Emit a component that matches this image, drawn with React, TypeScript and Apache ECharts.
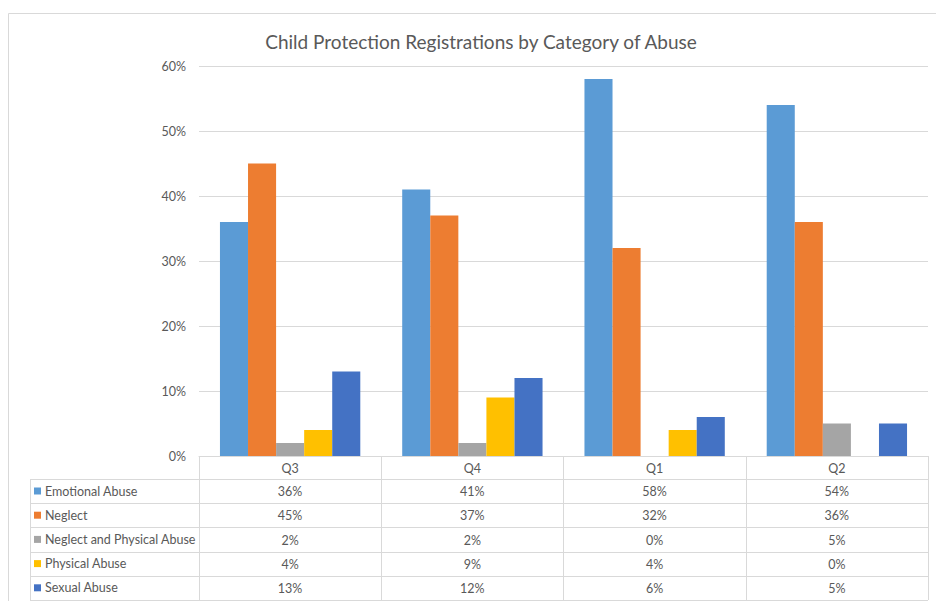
import React, { useEffect, useRef } from "react";
import * as echarts from "echarts";

const categories = ["Q3", "Q4", "Q1", "Q2"];
const seriesNames = [
  "Emotional Abuse",
  "Neglect",
  "Neglect and Physical Abuse",
  "Physical Abuse",
  "Sexual Abuse",
];
const emotionalAbuse = [36, 41, 58, 54];
const neglect = [45, 37, 32, 36];
const neglectPhysical = [2, 2, 0, 5];
const physicalAbuse = [4, 9, 4, 0];
const sexualAbuse = [13, 12, 6, 5];
const colors = ["#5B9BD5", "#ED7D31", "#A5A5A5", "#FFC000", "#4472C4"];
const yTicks = { min: 0, max: 60, interval: 10 };

const FONT = "Lato, 'Open Sans', sans-serif";
const TEXT = "#595959";
const LINE = "#D9D9D9";

export default function App() {
  const ref = useRef<HTMLDivElement>(null);
  useEffect(() => {
    document.body.style.margin = "0";
    if (!ref.current) return;
    const chart = echarts.init(ref.current, null, { renderer: "svg" });
    const allSeries = [emotionalAbuse, neglect, neglectPhysical, physicalAbuse, sexualAbuse];
    const rowH = 24.2;
    const gridBottomY = 456;
    const headerBottom = 479;
    const rowLines: any[] = [];
    for (let i = 0; i <= 5; i++) {
      const y = Math.round(headerBottom + i * rowH) + 0.5;
      rowLines.push({
        type: "line",
        shape: { x1: 30, y1: y, x2: 928, y2: y },
        style: { stroke: LINE, lineWidth: 1 },
        silent: true,
      });
    }
    const valueAxes = allSeries.map((vals, k) => ({
      type: "category",
      gridIndex: 0,
      position: "bottom",
      data: categories,
      offset: rowH * (k + 1),
      axisLine: { show: false },
      axisTick: { show: false },
      axisLabel: {
        interval: 0,
        margin: 5,
        fontFamily: FONT,
        fontSize: 12.5,
        color: TEXT,
        formatter: (_v: string, i: number) => `${vals[i]}%`,
      },
    }));
    chart.setOption({
      animation: false,
      backgroundColor: "#fff",
      title: {
        text: "Child Protection Registrations by Category of Abuse",
        left: 476,
        textAlign: "center",
        top: 27,
        textStyle: { fontFamily: FONT, fontSize: 19, fontWeight: "normal", color: TEXT },
      },
      legend: {
        orient: "vertical",
        left: 34,
        top: 484,
        height: 117,
        padding: 0,
        icon: "rect",
        itemWidth: 7,
        itemHeight: 7,
        itemGap: 10.2,
        data: seriesNames,
        textStyle: { fontFamily: FONT, fontSize: 12.5, color: TEXT, lineHeight: 14, padding: [0, 0, 0, -1] },
        selectedMode: false,
      },
      grid: { left: 199, right: 8, top: 66, bottom: 601 - gridBottomY, containLabel: false },
      xAxis: [
        {
          type: "category",
          data: categories,
          axisLine: { show: true, lineStyle: { color: LINE } },
          axisTick: { show: true, length: 144, lineStyle: { color: LINE } },
          axisLabel: { margin: 6, fontFamily: FONT, fontSize: 12.5, color: TEXT },
        },
        ...valueAxes,
      ],
      yAxis: {
        type: "value",
        min: yTicks.min,
        max: yTicks.max,
        interval: yTicks.interval,
        axisLine: { show: false },
        axisTick: { show: false },
        splitLine: { lineStyle: { color: LINE } },
        axisLabel: { formatter: "{value}%", margin: 13, fontFamily: FONT, fontSize: 12.5, color: TEXT },
      },
      series: allSeries.map((vals, k) => ({
        name: seriesNames[k],
        type: "bar",
        data: vals,
        barGap: "0%",
        barCategoryGap: "23%",
        itemStyle: { color: colors[k] },
      })),
      graphic: [
        {
          type: "polyline",
          shape: { points: [[8.5, 601], [8.5, 13.5], [936, 13.5]] },
          style: { stroke: LINE, lineWidth: 1, fill: null },
          silent: true,
        },
        {
          type: "line",
          shape: { x1: 30.5, y1: headerBottom, x2: 30.5, y2: 600 },
          style: { stroke: LINE, lineWidth: 1 },
          silent: true,
        },
        ...rowLines,
      ],
    });
    return () => chart.dispose();
  }, []);
  return <div ref={ref} style={{ width: 936, height: 601 }} />;
}
